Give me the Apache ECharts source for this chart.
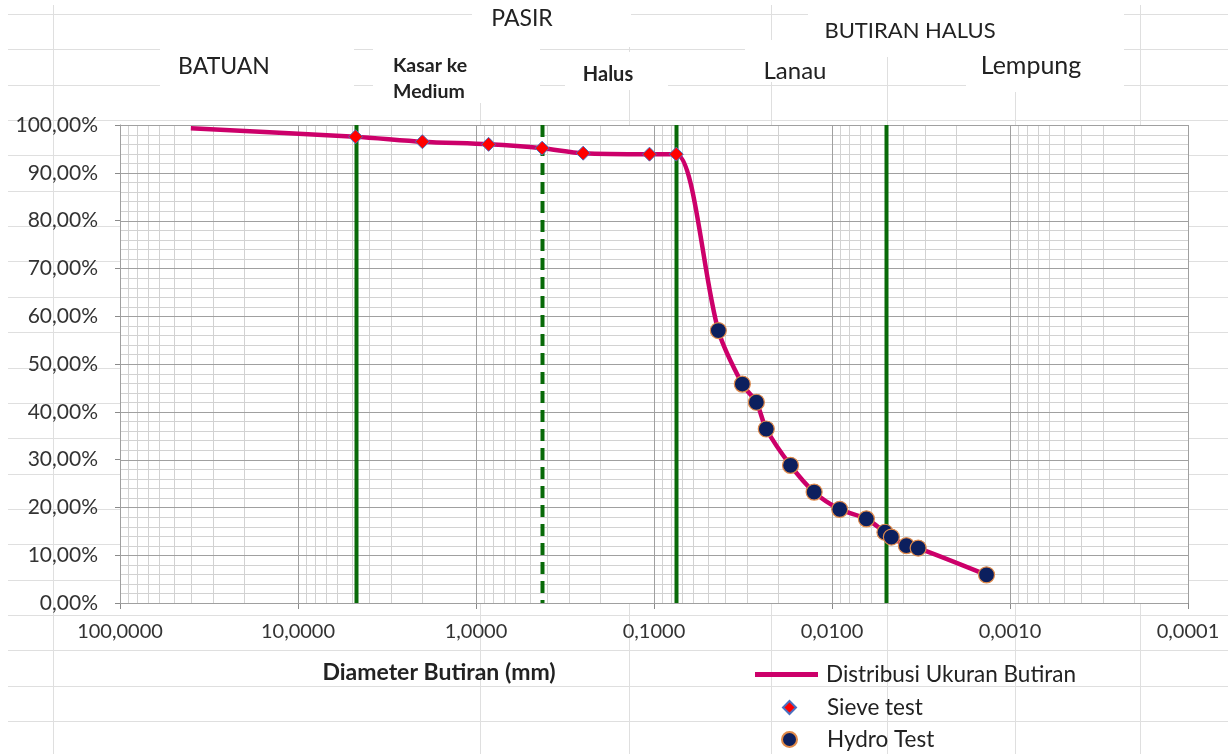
<!DOCTYPE html>
<html>
<head>
<meta charset="utf-8">
<script src="https://cdn.jsdelivr.net/npm/echarts@6/dist/echarts.min.js"></script>
<style>
  html, body { margin: 0; padding: 0; background: #ffffff; }
  #chart { width: 1228px; height: 754px; }
</style>
</head>
<body>
<div id="chart"></div>
<script>
// Grain size distribution: diameter (mm) vs percent passing
const startSize = [40];
const startPass = [99.3];

const sieveSize = [4.75, 2.0, 0.85, 0.425, 0.25, 0.106, 0.075];
const sievePass = [97.55, 96.5, 95.95, 95.15, 94.1, 93.9, 93.9];

const hydroSize = [0.0435, 0.0319, 0.0266, 0.0234, 0.0171, 0.0126, 0.00905,
                   0.00641, 0.00504, 0.00464, 0.00382, 0.00328, 0.001355];
const hydroPass = [57.0, 45.8, 42.0, 36.4, 28.8, 23.2, 19.6,
                   17.6, 14.8, 13.8, 12.0, 11.5, 5.9];

// Soil class boundaries (mm)
const boundarySolid = [4.75, 0.075, 0.005];
const boundaryDashed = [0.425];

// Axis ranges
const xMin = 0.0001, xMax = 100;
const yMin = 0, yMax = 100, yStep = 10, yMinorStep = 2;

// Zone titles
const zoneTitles = [
  { text: 'PASIR', x: 522, y: 19, bold: false, size: 23 },
  { text: 'BUTIRAN HALUS', x: 910, y: 31, bold: false, size: 22 },
  { text: 'BATUAN', x: 224, y: 67, bold: false, size: 23 },
  { text: 'Lanau', x: 795, y: 71, bold: false, size: 24 },
  { text: 'Lempung', x: 1031, y: 66, bold: false, size: 25 },
  { text: 'Halus', x: 608, y: 75, bold: true, size: 20 }
];
const seriesNames = ['Distribusi Ukuran Butiran', 'Sieve test', 'Hydro Test'];

const FONT = 'Lato, "Open Sans", sans-serif';
const LINE_COLOR = '#cc006a';
const GREEN = '#086a08';

const fmtX = v => Number(v).toFixed(4).replace('.', ',');
const fmtY = v => Number(v).toFixed(2).replace('.', ',') + '%';

// Gridline positions on the log axis (2..9 within each decade)
const majorX = [];
const minorX = [];
const eLo = Math.round(Math.log10(xMin)), eHi = Math.round(Math.log10(xMax));
for (let e = eLo; e <= eHi; e++) {
  majorX.push(Math.pow(10, e));
  if (e < eHi) {
    for (let m = 2; m <= 9; m++) minorX.push(m * Math.pow(10, e));
  }
}
const majorY = [];
const minorY = [];
for (let v = yMin; v <= yMax; v += yMinorStep) {
  (v % yStep === 0 ? majorY : minorY).push(v);
}

const pairs = (xs, ys) => xs.map((x, i) => [x, ys[i]]);
const curveData = pairs(startSize, startPass)
  .concat(pairs(sieveSize, sievePass))
  .concat(pairs(hydroSize, hydroPass));

// Plot box in pixels
const PL = 120, PR = 1188, PT = 125, PB = 603;

// Worksheet cell lines behind the chart
const sheetRows = [14, 49, 85, 120, 155, 191, 226, 261, 297, 332, 368, 403, 438, 474, 509, 544, 580, 615, 650, 686, 721];
const sheetCols = [53, 480, 629, 771, 887, 1015, 1140];
const textBoxes = [
  [472, 0, 159, 47],
  [160, 30, 194, 80],
  [373, 30, 167, 73],
  [565, 52, 103, 38],
  [808, 0, 316, 57],
  [745, 40, 135, 42],
  [966, 57, 158, 35]
];

const graphics = [];
const sheetStroke = { stroke: '#dfdfdf', lineWidth: 1 };
sheetRows.forEach(y => {
  const yy = y + 0.5;
  if (y < PT || y > PB) {
    graphics.push({ type: 'line', z: 0, silent: true, shape: { x1: 8, y1: yy, x2: 1228, y2: yy }, style: sheetStroke });
  } else {
    graphics.push({ type: 'line', z: 0, silent: true, shape: { x1: 8, y1: yy, x2: PL, y2: yy }, style: sheetStroke });
    graphics.push({ type: 'line', z: 0, silent: true, shape: { x1: PR, y1: yy, x2: 1228, y2: yy }, style: sheetStroke });
  }
});
sheetCols.forEach(x => {
  const xx = x + 0.5;
  if (x < PL || x > PR) {
    graphics.push({ type: 'line', z: 0, silent: true, shape: { x1: xx, y1: 5, x2: xx, y2: 754 }, style: sheetStroke });
  } else {
    graphics.push({ type: 'line', z: 0, silent: true, shape: { x1: xx, y1: 5, x2: xx, y2: PT }, style: sheetStroke });
    graphics.push({ type: 'line', z: 0, silent: true, shape: { x1: xx, y1: PB + 1, x2: xx, y2: 754 }, style: sheetStroke });
  }
});
textBoxes.forEach(b => {
  graphics.push({ type: 'rect', z: 1, silent: true, shape: { x: b[0], y: b[1], width: b[2], height: b[3] }, style: { fill: '#ffffff' } });
});
zoneTitles.forEach(t => {
  graphics.push({
    type: 'text', z: 2, silent: true,
    style: {
      text: t.text, x: t.x, y: t.y,
      textAlign: 'center', textVerticalAlign: 'middle',
      font: (t.bold ? 'bold ' : '') + t.size + 'px ' + FONT,
      fill: '#222222'
    }
  });
});
graphics.push({
  type: 'text', z: 2, silent: true,
  style: {
    text: 'Kasar ke\nMedium', x: 393, y: 79,
    textAlign: 'left', textVerticalAlign: 'middle',
    font: 'bold 19.5px ' + FONT, lineHeight: 26,
    fill: '#222222'
  }
});
graphics.push({
  type: 'text', z: 2, silent: true,
  style: {
    text: 'Diameter Butiran (mm)', x: 439, y: 673,
    textAlign: 'center', textVerticalAlign: 'middle',
    font: 'bold 23px ' + FONT,
    fill: '#222222'
  }
});

// Full-height vertical rule at each x value
function verticalRules(values, z, styleAt) {
  return {
    type: 'custom', z: z, silent: true, clip: false,
    data: values.map(v => [v, yMin]),
    encode: { x: 0, y: 1 },
    renderItem: function (params, api) {
      const cs = params.coordSys;
      const x = Math.round(api.coord([api.value(0), api.value(1)])[0]) + 0.5;
      return {
        type: 'line', silent: true,
        shape: { x1: x, y1: cs.y, x2: x, y2: cs.y + cs.height },
        style: styleAt(params.dataIndex)
      };
    }
  };
}
// Full-width horizontal rule at each y value
function horizontalRules(values, z, styleAt) {
  return {
    type: 'custom', z: z, silent: true, clip: false,
    data: values.map(v => [xMax, v]),
    encode: { x: 0, y: 1 },
    renderItem: function (params, api) {
      const cs = params.coordSys;
      const y = Math.round(api.coord([api.value(0), api.value(1)])[1]) + 0.5;
      return {
        type: 'line', silent: true,
        shape: { x1: cs.x, y1: y, x2: cs.x + cs.width, y2: y },
        style: styleAt(params.dataIndex)
      };
    }
  };
}

const minorStyle = () => ({ stroke: '#d2d2d2', lineWidth: 1 });
const majorStyle = () => ({ stroke: '#a0a0a0', lineWidth: 1 });
const boundaryValues = boundarySolid.concat(boundaryDashed);
const boundaryStyle = i => (i < boundarySolid.length
  ? { stroke: GREEN, lineWidth: 4 }
  : { stroke: GREEN, lineWidth: 4, lineDash: [12, 7] });

const legendText = { fontFamily: FONT, fontSize: 22.5, color: '#222222' };

const option = {
  backgroundColor: '#ffffff',
  animation: false,
  graphic: { elements: graphics },
  grid: {
    left: PL, right: 1228 - PR, top: PT, bottom: 754 - PB,
    show: true, backgroundColor: '#ffffff', borderWidth: 0
  },
  legend: [
    {
      data: [{ name: seriesNames[0], icon: 'rect' }], left: 755, top: 663, padding: 0,
      itemWidth: 63, itemHeight: 5, selectedMode: false,
      textStyle: Object.assign({ padding: [0, 0, 0, 3] }, legendText)
    },
    {
      data: [seriesNames[1]], left: 782, top: 696, padding: 0,
      itemWidth: 13, itemHeight: 13, selectedMode: false,
      textStyle: Object.assign({ padding: [0, 0, 0, 26] }, legendText)
    },
    {
      data: [seriesNames[2]], left: 781, top: 728, padding: 0,
      itemWidth: 15, itemHeight: 16, selectedMode: false,
      textStyle: Object.assign({ padding: [0, 0, 0, 25] }, legendText)
    }
  ],
  xAxis: {
    type: 'log', logBase: 10, min: xMin, max: xMax, inverse: true,
    axisLine: { show: true, lineStyle: { color: '#8a8a8a', width: 1 } },
    axisTick: { show: true, length: 6, inside: false, lineStyle: { color: '#8a8a8a' } },
    axisLabel: {
      formatter: fmtX, fontFamily: FONT, fontSize: 20, color: '#333333', margin: 19
    },
    splitLine: { show: false }
  },
  yAxis: {
    type: 'value', min: yMin, max: yMax, interval: yStep,
    axisLine: { show: true, lineStyle: { color: '#8a8a8a', width: 1 } },
    axisTick: { show: true, length: 5, lineStyle: { color: '#8a8a8a' } },
    axisLabel: {
      formatter: fmtY, fontFamily: FONT, fontSize: 21, color: '#333333', margin: 22
    },
    splitLine: { show: false }
  },
  series: [
    verticalRules(minorX, 1, minorStyle),
    horizontalRules(minorY, 1, minorStyle),
    verticalRules(majorX, 2, majorStyle),
    horizontalRules(majorY, 2, majorStyle),
    verticalRules(boundaryValues, 3, boundaryStyle),
    {
      name: seriesNames[0], type: 'line', data: curveData,
      smooth: 0.3, symbol: 'none', showSymbol: false, z: 4,
      lineStyle: { color: LINE_COLOR, width: 4.5 },
      itemStyle: { color: LINE_COLOR }
    },
    {
      name: seriesNames[1], type: 'scatter', data: pairs(sieveSize, sievePass),
      symbol: 'diamond', symbolSize: 14, z: 5,
      itemStyle: { color: '#ff0000', borderColor: '#4a6fc0', borderWidth: 1, opacity: 1 }
    },
    {
      name: seriesNames[2], type: 'scatter', data: pairs(hydroSize, hydroPass),
      symbol: 'circle', symbolSize: 16, z: 6,
      itemStyle: { color: '#0c1f5e', borderColor: '#e08a4a', borderWidth: 1.2, opacity: 1 }
    }
  ]
};

const chart = echarts.init(document.getElementById('chart'));
chart.setOption(option);
</script>
</body>
</html>
